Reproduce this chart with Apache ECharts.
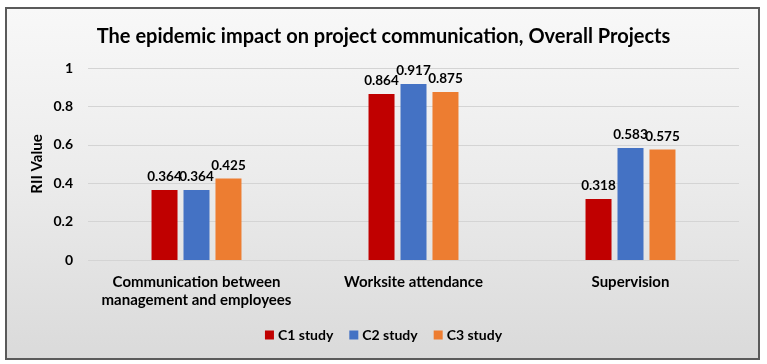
<!DOCTYPE html>
<html>
<head>
<meta charset="utf-8">
<script src="https://cdn.jsdelivr.net/npm/echarts@6/dist/echarts.min.js"></script>
<style>
html,body{margin:0;padding:0;width:767px;height:364px;background:#ffffff;overflow:hidden;}
#frame{position:absolute;left:5px;top:7px;width:751px;height:349px;border:2px solid #5a5a5a;background:linear-gradient(to bottom,#f8f8f8 0%,#ebebeb 50%,#dadada 100%);}
#chart{position:absolute;left:0;top:0;width:767px;height:364px;}
</style>
</head>
<body>
<div id="frame"></div>
<div id="chart"></div>
<script>
const categories = ['Communication between\nmanagement and employees', 'Worksite attendance', 'Supervision'];
const seriesNames = ['C1 study', 'C2 study', 'C3 study'];
const c1Values = [0.364, 0.864, 0.318];
const c2Values = [0.364, 0.917, 0.583];
const c3Values = [0.425, 0.875, 0.575];
const colors = ['#C00000', '#4472C4', '#ED7D31'];
const yTicks = [0, 0.2, 0.4, 0.6, 0.8, 1];

const FONT = 'Lato';
const chart = echarts.init(document.getElementById('chart'), null, {renderer: 'canvas'});
const dataSets = [c1Values, c2Values, c3Values];
chart.setOption({
  backgroundColor: 'transparent',
  textStyle: {fontFamily: FONT},
  title: {
    text: 'The epidemic impact on project communication, Overall Projects',
    left: 'center', top: 22,
    textStyle: {fontFamily: FONT, fontWeight: 'bold', fontSize: 20, color: '#000'}
  },
  legend: {
    data: seriesNames,
    bottom: 17, left: 'center',
    itemWidth: 9, itemHeight: 9, itemGap: 16,
    icon: 'rect',
    textStyle: {fontFamily: FONT, fontWeight: 'bold', fontSize: 14, color: '#000', padding: [0,0,0,-1]}
  },
  grid: {left: 88, right: 28, top: 68, bottom: 104},
  xAxis: {
    type: 'category',
    data: categories,
    axisLine: {show: false},
    axisTick: {show: false},
    axisLabel: {fontFamily: FONT, fontWeight: 'bold', fontSize: 15, color: '#000', margin: 13, lineHeight: 18, interval: 0}
  },
  yAxis: {
    type: 'value',
    min: yTicks[0], max: yTicks[yTicks.length-1], interval: 0.2,
    name: 'RII Value', nameLocation: 'middle', nameGap: 43, nameRotate: 90, nameMoveOverlap: false,
    nameTextStyle: {fontFamily: FONT, fontWeight: 'bold', fontSize: 15, color: '#000'},
    axisLine: {show: false},
    axisTick: {show: false},
    axisLabel: {fontFamily: FONT, fontWeight: 'bold', fontSize: 14, color: '#000', margin: 15,
      formatter: v => String(Math.round(v*10)/10)},
    splitLine: {lineStyle: {color: '#d4d4d4', width: 1}}
  },
  series: seriesNames.map((n, i) => ({
    name: n,
    type: 'bar',
    data: dataSets[i],
    barWidth: 26,
    barGap: '23%',
    itemStyle: {color: colors[i]},
    label: {show: true, position: 'top', distance: 6, fontFamily: FONT, fontWeight: 'bold', fontSize: 13.5, color: '#000',
      formatter: p => p.value.toFixed(3)}
  }))
});
</script>
</body>
</html>
